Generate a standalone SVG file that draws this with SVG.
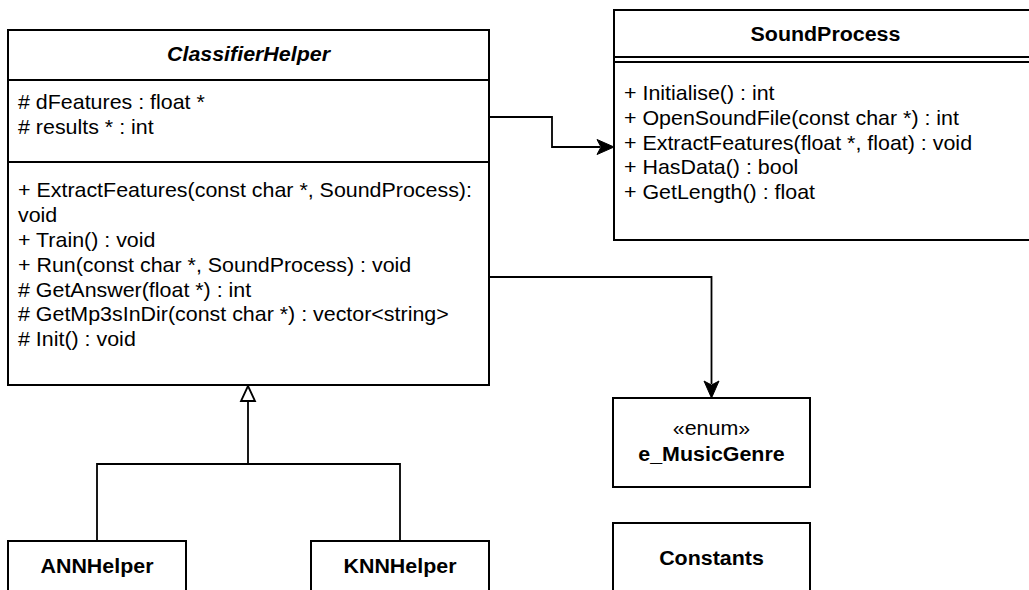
<svg xmlns="http://www.w3.org/2000/svg" width="1029" height="590" viewBox="0 0 1029 590">
<style>
.box{fill:#fff;stroke:#000;stroke-width:2}
.ln{fill:none;stroke:#000;stroke-width:2}
.c{fill:none;stroke:#000;stroke-width:1.8}
text{font-family:"Liberation Sans",Arial,Helvetica,sans-serif;font-size:20.5px;fill:#000}
.b{font-weight:bold}
.bi{font-weight:bold;font-style:italic}
.m{text-anchor:middle}
</style>
<rect width="1029" height="590" fill="#fff"/>
<g id="connectors">
<path class="c" d="M489,117 H552 V147 H600"/>
<path d="M614,147 L597,139.5 L601,147 L597,154.5 Z" fill="#000" stroke="#000" stroke-width="1"/>
<path class="c" d="M489,277 H711.5 V384"/>
<path d="M711.5,398 L704,381 L711.5,385 L719,381 Z" fill="#000" stroke="#000" stroke-width="1"/>
<path class="c" d="M97,541 V464 H400 V541 M248,464 V401"/>
<path d="M248,386 L241,401 L255,401 Z" fill="#fff" stroke="#000" stroke-width="1.8"/>
</g>
<g id="ClassifierHelper">
<rect class="box" x="8" y="30" width="481" height="355"/>
<path class="ln" d="M8,80 H489 M8,162 H489"/>
<g transform="scale(1.045 1)">
<text class="bi m" x="237.8" y="61">ClassifierHelper</text>
<text x="17.22" y="109.5"># dFeatures : float *</text>
<text x="17.22" y="134"># results * : int</text>
<text x="17.22" y="197.5">+ ExtractFeatures(const char *, SoundProcess):</text>
<text x="17.22" y="222.3">void</text>
<text x="17.22" y="247.1">+ Train() : void</text>
<text x="17.22" y="271.9">+ Run(const char *, SoundProcess) : void</text>
<text x="17.22" y="296.7"># GetAnswer(float *) : int</text>
<text x="17.22" y="321.5"># GetMp3sInDir(const char *) : vector&lt;string&gt;</text>
<text x="17.22" y="346.3"># Init() : void</text>
</g>
</g>
<g id="SoundProcess">
<rect class="box" x="614" y="10" width="423" height="230"/>
<path class="ln" d="M614,57 H1037 M614,62 H1037"/>
<g transform="scale(1.045 1)">
<text class="b m" x="789.95" y="41">SoundProcess</text>
<text x="597.13" y="100">+ Initialise() : int</text>
<text x="597.13" y="124.8">+ OpenSoundFile(const char *) : int</text>
<text x="597.13" y="149.6">+ ExtractFeatures(float *, float) : void</text>
<text x="597.13" y="174.4">+ HasData() : bool</text>
<text x="597.13" y="199.2">+ GetLength() : float</text>
</g>
</g>
<g id="e_MusicGenre">
<rect class="box" x="613" y="398" width="197" height="89"/>
<g transform="scale(1.045 1)">
<text class="m" x="680.86" y="435">«enum»</text>
<text class="b m" x="680.86" y="461.5">e_MusicGenre</text>
</g>
</g>
<g id="Constants">
<rect class="box" x="613" y="523" width="197" height="89"/>
<g transform="scale(1.045 1)">
<text class="b m" x="680.86" y="565">Constants</text>
</g>
</g>
<g id="ANNHelper">
<rect class="box" x="8" y="541" width="178" height="70"/>
<g transform="scale(1.045 1)">
<text class="b m" x="92.82" y="573">ANNHelper</text>
</g>
</g>
<g id="KNNHelper">
<rect class="box" x="311" y="541" width="178" height="70"/>
<g transform="scale(1.045 1)">
<text class="b m" x="382.78" y="573">KNNHelper</text>
</g>
</g>
</svg>
